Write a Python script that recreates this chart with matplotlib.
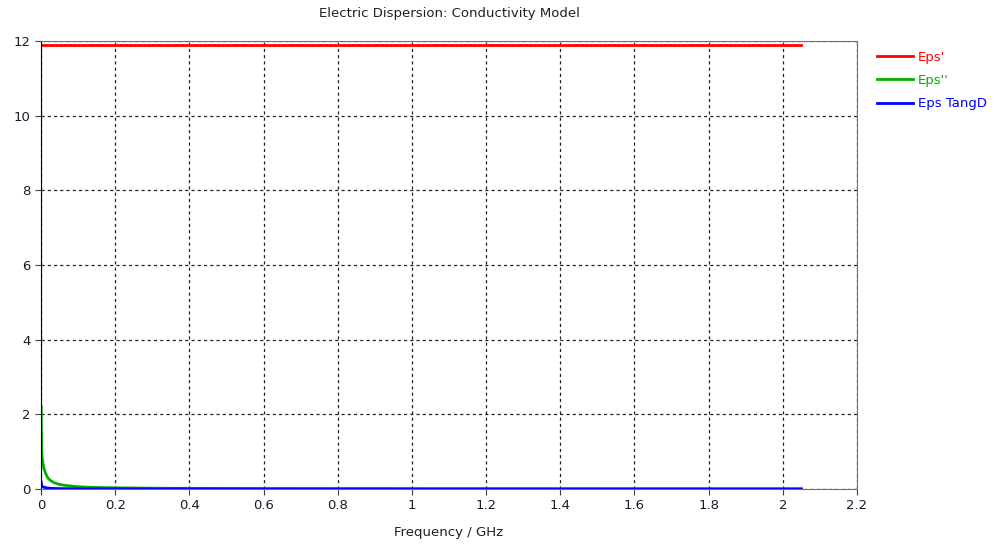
import matplotlib.pyplot as plt

# Frequency in GHz
freq_ghz = [0.0005, 0.0015, 0.003, 0.005, 0.008, 0.012, 0.018, 0.025, 0.035,
            0.05, 0.07, 0.1, 0.13, 0.17, 0.3, 0.6, 1.0, 1.5, 2.05]
eps_real = [11.9] * len(freq_ghz)
eps_imag = [2.2, 1.05, 0.85, 0.7, 0.55, 0.42, 0.3, 0.23, 0.17,
            0.12, 0.09, 0.06, 0.045, 0.035, 0.02, 0.01, 0.006, 0.004, 0.003]
eps_tand = [0.18, 0.09, 0.07, 0.06, 0.046, 0.035, 0.025, 0.019, 0.014,
            0.01, 0.008, 0.005, 0.004, 0.003, 0.002, 0.001, 0.0005, 0.0003, 0.0003]

x_ticks = [0, 0.2, 0.4, 0.6, 0.8, 1, 1.2, 1.4, 1.6, 1.8, 2, 2.2]
x_tick_labels = ['0', '0.2', '0.4', '0.6', '0.8', '1', '1.2', '1.4', '1.6', '1.8', '2', '2.2']
y_ticks = [0, 2, 4, 6, 8, 10, 12]

plt.rcParams['font.family'] = ['DejaVu Sans']
plt.rcParams['font.size'] = 9.5

fig = plt.figure(figsize=(9.96, 5.45), dpi=100)
ax = fig.add_axes([0.0412, 0.1028, 0.8192, 0.822])

ax.plot(freq_ghz, eps_real, color='#ff0000', lw=2, label="Eps'")
ax.plot(freq_ghz, eps_imag, color='#00b000', lw=2, label="Eps''")
ax.plot(freq_ghz, eps_tand, color='#0000ff', lw=2, label='Eps TangD')

ax.set_xlim(0, 2.2)
ax.set_ylim(0, 12)
ax.set_xticks(x_ticks)
ax.set_xticklabels(x_tick_labels)
ax.set_yticks(y_ticks)
ax.set_axisbelow(True)
ax.grid(True, color='#202020', linestyle=(0, (2.5, 2.5)), linewidth=0.9)

for side in ['top', 'right', 'bottom']:
    ax.spines[side].set_color('#707070')
ax.spines['left'].set_color('black')
ax.tick_params(direction='out', length=4, color='#404040', labelcolor='#1a1a2a')

ax.set_title('Electric Dispersion: Conductivity Model', fontsize=9.5, pad=17.5, color='#202020')
ax.set_xlabel('Frequency / GHz', fontsize=9.5, color='#202020', labelpad=10)

leg = ax.legend(loc='upper left', bbox_to_anchor=(1.01, 1.005), frameon=False,
                handlelength=2.7, handletextpad=0.4, labelspacing=0.78)
for line, text in zip(leg.get_lines(), leg.get_texts()):
    text.set_color(line.get_color())

fig.savefig('out.png', dpi=100)
